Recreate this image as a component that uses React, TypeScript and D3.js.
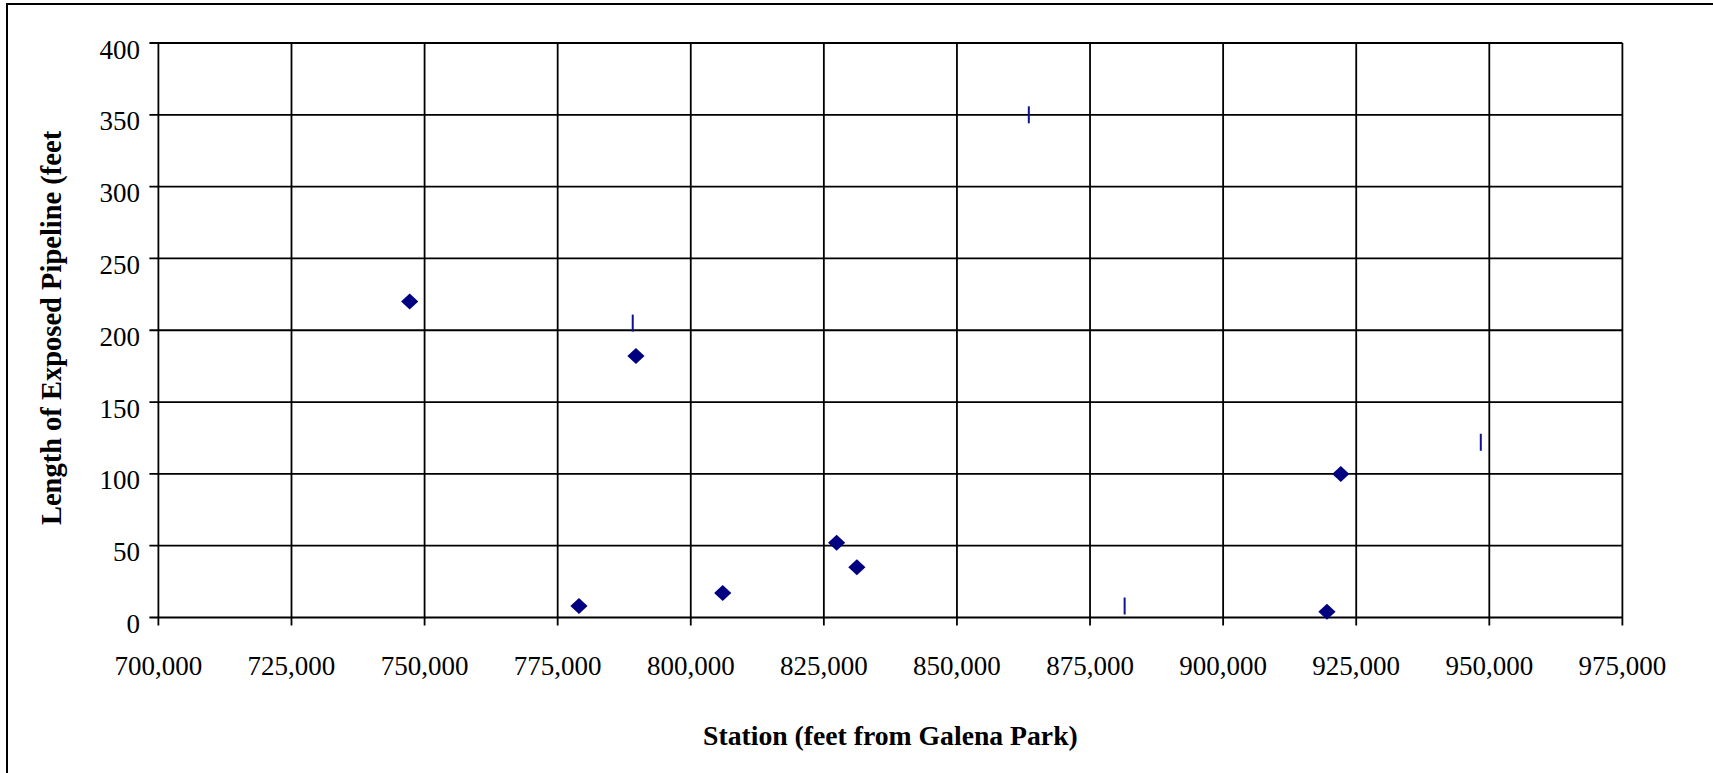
import React from "react";
import * as d3 from "d3";

const diamondStations = [747200, 779000, 789700, 806000, 827400, 831200, 919500, 922100];
const diamondLengths = [220, 8, 182, 17, 52, 35, 4, 100];

const barStations = [789100, 863500, 881500, 948400];
const barLengths = [205, 350, 8, 122];

const xTicks = [700000, 725000, 750000, 775000, 800000, 825000, 850000, 875000, 900000, 925000, 950000, 975000];
const yTicks = [0, 50, 100, 150, 200, 250, 300, 350, 400];

const xTitle = "Station (feet from Galena Park)";
const yTitle = "Length of Exposed Pipeline (feet";

export default function App() {
  const W = 1713;
  const H = 773;
  const left = 158.4;
  const right = 1622.4;
  const top = 43;
  const bottom = 617.5;

  const x = d3.scaleLinear().domain([700000, 975000]).range([left, right]);
  const y = d3.scaleLinear().domain([0, 400]).range([bottom, top]);
  const fmt = d3.format(",");
  const font = "'Liberation Serif', 'Times New Roman', serif";

  const diamond = d3.symbol().type(d3.symbolDiamond2).size(1);
  const dPath = (cx: number, cy: number) => {
    const hw = 8.6;
    const hh = 8;
    return `M${cx},${cy - hh}L${cx + hw},${cy}L${cx},${cy + hh}L${cx - hw},${cy}Z`;
  };
  void diamond;

  return (
    <svg
      width={W}
      height={H}
      style={{ position: "absolute", left: 0, top: 0, display: "block", background: "#fff" }}
    >
      <rect x={0} y={0} width={W} height={H} fill="#fff" />
      <rect x={7} y={4} width={W + 20} height={H + 20} fill="none" stroke="#000" strokeWidth={2} />

      {/* gridlines */}
      {yTicks.map((t) => (
        <line key={"gy" + t} x1={left - 9} x2={right} y1={y(t)} y2={y(t)} stroke="#000" strokeWidth={1.8} />
      ))}
      {xTicks.map((t) => (
        <line key={"gx" + t} x1={x(t)} x2={x(t)} y1={top} y2={bottom + 8} stroke="#000" strokeWidth={1.8} />
      ))}

      {/* y tick labels */}
      {yTicks.map((t) => (
        <text
          key={"ly" + t}
          x={140}
          y={y(t) + 15.5}
          textAnchor="end"
          fontFamily={font}
          fontSize={27}
          fill="#000"
        >
          {t}
        </text>
      ))}

      {/* x tick labels */}
      {xTicks.map((t) => (
        <text
          key={"lx" + t}
          x={x(t)}
          y={675}
          textAnchor="middle"
          fontFamily={font}
          fontSize={27}
          fill="#000"
        >
          {fmt(t)}
        </text>
      ))}

      {/* axis titles */}
      <text
        x={(left + right) / 2}
        y={745}
        textAnchor="middle"
        fontFamily={font}
        fontSize={27.7}
        fontWeight="bold"
        fill="#000"
      >
        {xTitle}
      </text>
      <text
        transform={`translate(61,328) rotate(-90)`}
        textAnchor="middle"
        fontFamily={font}
        fontSize={28.5}
        fontWeight="bold"
        fill="#000"
      >
        {yTitle}
      </text>

      {/* series 2: vertical bar markers */}
      {barStations.map((s, i) => (
        <line
          key={"b" + i}
          x1={x(s)}
          x2={x(s)}
          y1={y(barLengths[i]) - 8.5}
          y2={y(barLengths[i]) + 8.5}
          stroke="#12128e"
          strokeWidth={2}
        />
      ))}

      {/* series 1: diamonds */}
      {diamondStations.map((s, i) => (
        <path key={"d" + i} d={dPath(x(s), y(diamondLengths[i]))} fill="#000080" />
      ))}
    </svg>
  );
}
